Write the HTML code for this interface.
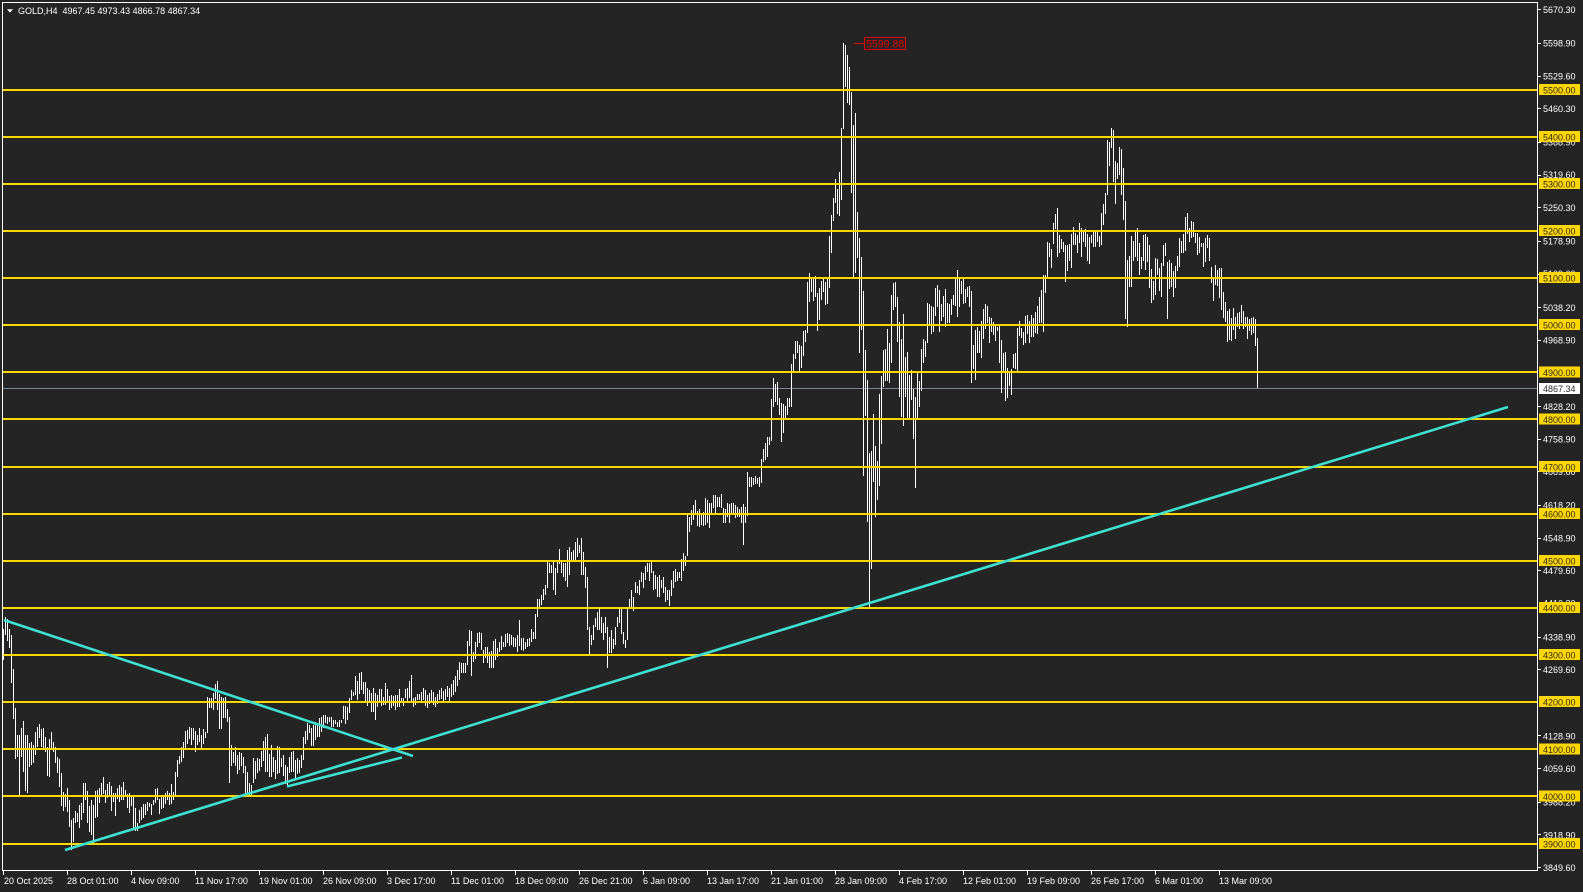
<!DOCTYPE html>
<html><head><meta charset="utf-8"><style>html,body{margin:0;padding:0;background:#242424;overflow:hidden}svg{display:block}</style></head>
<body>
<svg width="1583" height="892" viewBox="0 0 1583 892" xmlns="http://www.w3.org/2000/svg" font-family="'Liberation Sans', Arial, sans-serif">
<rect x="0" y="0" width="1583" height="892" fill="#242424"/>
<!-- current price line -->
<rect x="3" y="388" width="1534" height="1" fill="#778899"/>
<!-- bars -->
<path fill="none" stroke="#ffffff" stroke-width="1" shape-rendering="crispEdges" d="M3.5 629V660M5.5 617V635M7.5 619V641M9.5 629V648M11.5 635V683M13.5 669V719M15.5 708V759M17.5 735V757M19.5 735V796M21.5 728V757M23.5 721V772M25.5 735V791M27.5 735V793M29.5 743V767M31.5 742V765M33.5 745V763M35.5 732V755M37.5 727V747M39.5 724V738M41.5 729V747M43.5 728V748M45.5 737V752M47.5 747V776M49.5 739V777M51.5 732V748M53.5 742V752M55.5 747V763M57.5 757V773M59.5 759V787M61.5 773V806M63.5 792V811M65.5 794V807M67.5 788V812M69.5 800V827M71.5 820V850M73.5 818V842M75.5 811V823M77.5 813V822M79.5 805V828M81.5 803V820M83.5 783V813M85.5 783V800M87.5 791V823M89.5 806V832M91.5 800V835M93.5 805V843M95.5 791V818M97.5 790V817M99.5 788V803M101.5 783V797M103.5 777V794M105.5 790V803M107.5 784V798M109.5 782V795M111.5 786V811M113.5 793V802M115.5 793V816M117.5 788V799M119.5 785V802M121.5 787V800M123.5 782V800M125.5 790V797M127.5 794V808M129.5 793V813M131.5 797V806M133.5 797V830M135.5 808V831M137.5 823V831M139.5 810V823M141.5 807V820M143.5 804V818M145.5 804V815M147.5 802V811M149.5 803V807M151.5 804V815M153.5 800V805M155.5 789V803M157.5 788V800M159.5 799V814M161.5 797V809M163.5 796V808M165.5 793V804M167.5 791V800M169.5 793V805M171.5 784V804M173.5 792V800M175.5 772V797M177.5 760V777M179.5 756V764M181.5 747V762M183.5 742V758M185.5 731V750M187.5 730V744M189.5 727V739M191.5 728V745M193.5 728V740M195.5 731V752M197.5 735V745M199.5 728V742M201.5 735V749M203.5 729V744M205.5 732V738M207.5 697V733M209.5 698V708M211.5 698V708M213.5 693V710M215.5 684V699M217.5 681V710M219.5 694V729M221.5 697V729M223.5 698V718M225.5 697V718M227.5 709V722M229.5 717V783M231.5 745V766M233.5 752V763M235.5 747V766M237.5 755V774M239.5 752V770M241.5 753V766M243.5 757V773M245.5 766V795M247.5 772V793M249.5 783V797M251.5 785V797M253.5 758V783M255.5 761V779M257.5 758V773M259.5 759V771M261.5 751V767M263.5 741V761M265.5 737V772M267.5 734V772M269.5 754V777M271.5 745V777M273.5 757V772M275.5 760V779M277.5 746V774M279.5 747V773M281.5 758V767M283.5 755V776M285.5 765V784M287.5 767V785M289.5 757V773M291.5 752V772M293.5 751V772M295.5 760V779M297.5 758V774M299.5 760V773M301.5 755V768M303.5 737V760M305.5 731V744M307.5 723V740M309.5 725V733M311.5 728V746M313.5 725V746M315.5 722V740M317.5 723V737M319.5 718V737M321.5 717V732M323.5 715V728M325.5 715V723M327.5 717V724M329.5 717V722M331.5 717V727M333.5 720V727M335.5 720V724M337.5 722V727M339.5 720V727M341.5 720V723M343.5 706V719M345.5 706V724M347.5 707V720M349.5 698V713M351.5 690V700M353.5 692V696M355.5 676V695M357.5 681V700M359.5 673V694M361.5 672V690M363.5 682V694M365.5 682V703M367.5 688V706M369.5 690V702M371.5 693V712M373.5 688V712M375.5 693V720M377.5 695V707M379.5 689V703M381.5 689V706M383.5 697V705M385.5 683V705M387.5 689V703M389.5 696V710M391.5 695V708M393.5 696V706M395.5 695V710M397.5 695V707M399.5 689V707M401.5 698V702M403.5 698V706M405.5 689V698M407.5 688V703M409.5 681V698M411.5 675V702M413.5 698V707M415.5 697V705M417.5 694V700M419.5 694V700M421.5 692V703M423.5 688V700M425.5 690V706M427.5 695V708M429.5 693V704M431.5 690V701M433.5 692V705M435.5 697V707M437.5 694V704M439.5 690V700M441.5 688V699M443.5 691V703M445.5 689V700M447.5 686V697M449.5 688V701M451.5 684V697M453.5 680V695M455.5 676V692M457.5 670V686M459.5 662V680M461.5 663V673M463.5 663V673M465.5 663V673M467.5 641V665M469.5 630V646M471.5 631V676M473.5 652V662M475.5 642V659M477.5 633V647M479.5 632V643M481.5 633V650M483.5 650V663M485.5 647V658M487.5 647V663M489.5 652V668M491.5 651V668M493.5 641V668M495.5 639V660M497.5 648V657M499.5 642V652M501.5 636V650M503.5 642V647M505.5 634V647M507.5 633V643M509.5 634V646M511.5 635V645M513.5 637V647M515.5 638V647M517.5 635V652M519.5 620V646M521.5 638V650M523.5 638V651M525.5 642V649M527.5 639V647M529.5 638V646M531.5 629V642M533.5 632V639M535.5 614V639M537.5 599V617M539.5 599V607M541.5 595V605M543.5 589V600M545.5 585V595M547.5 562V588M549.5 563V573M551.5 565V573M553.5 562V590M555.5 568V595M557.5 562V573M559.5 549V564M561.5 562V573M563.5 563V577M565.5 563V581M567.5 550V587M569.5 547V575M571.5 552V562M573.5 550V560M575.5 542V562M577.5 538V557M579.5 545V553M581.5 538V575M583.5 552V575M585.5 567V588M587.5 577V630M589.5 627V654M591.5 635V645M593.5 625V640M595.5 618V627M597.5 612V630M599.5 607V630M601.5 617V633M603.5 623V640M605.5 617V633M607.5 627V668M609.5 637V653M611.5 630V653M613.5 639V649M615.5 627V645M617.5 617V627M619.5 608V623M621.5 608V634M623.5 632V644M625.5 640V648M627.5 608V640M629.5 599V608M631.5 590V607M633.5 597V611M635.5 582V593M637.5 586V593M639.5 580V595M641.5 572V582M643.5 573V588M645.5 566V580M647.5 563V572M649.5 563V581M651.5 562V573M653.5 571V590M655.5 575V589M657.5 577V597M659.5 575V597M661.5 580V588M663.5 577V593M665.5 587V602M667.5 590V600M669.5 590V606M671.5 580V596M673.5 571V588M675.5 569V582M677.5 572V581M679.5 572V578M681.5 559V581M683.5 553V571M685.5 556V566M687.5 515V556M689.5 517V532M691.5 510V525M693.5 505V520M695.5 500V514M697.5 511V526M699.5 509V527M701.5 515V525M703.5 512V526M705.5 498V525M707.5 500V523M709.5 503V528M711.5 503V513M713.5 495V508M715.5 495V513M717.5 497V507M719.5 497V507M721.5 494V508M723.5 508V523M725.5 509V523M727.5 503V517M729.5 504V523M731.5 503V515M733.5 503V513M735.5 505V518M737.5 507V517M739.5 509V517M741.5 507V523M743.5 504V545M745.5 507V523M747.5 472V516M749.5 477V487M751.5 477V487M753.5 478V485M755.5 476V484M757.5 478V484M759.5 477V487M761.5 459V483M763.5 449V462M765.5 443V460M767.5 437V457M769.5 437V445M771.5 399V441M773.5 378V407M775.5 384V402M777.5 382V405M779.5 398V415M781.5 403V442M783.5 404V433M785.5 406V418M787.5 398V415M789.5 398V407M791.5 364V407M793.5 354V371M795.5 341V359M797.5 341V353M799.5 345V372M801.5 346V368M803.5 331V356M805.5 330V342M807.5 282V333M809.5 273V302M811.5 278V292M813.5 279V301M815.5 276V297M817.5 293V331M819.5 288V320M821.5 281V300M823.5 278V292M825.5 282V305M827.5 278V304M829.5 236V288M831.5 215V253M833.5 198V221M835.5 179V203M837.5 189V214M839.5 172V216M841.5 128V200M843.5 43V129M845.5 45V87M847.5 55V103M849.5 67V105M851.5 92V193M853.5 125V279M855.5 113V273M857.5 212V258M859.5 238V353M861.5 257V330M863.5 291V476M865.5 350V416M867.5 380V522M869.5 453V607M871.5 451V569M873.5 414V482M875.5 446V517M877.5 461V500M879.5 394V486M881.5 376V444M883.5 350V387M885.5 349V381M887.5 329V381M889.5 343V383M891.5 295V363M893.5 283V310M895.5 282V307M897.5 297V342M899.5 322V397M901.5 339V417M903.5 314V426M905.5 357V397M907.5 352V418M909.5 375V418M911.5 370V400M913.5 389V439M915.5 397V488M917.5 371V418M919.5 381V407M921.5 349V391M923.5 339V363M925.5 341V357M927.5 303V343M929.5 304V324M931.5 306V334M933.5 307V332M935.5 288V316M937.5 285V307M939.5 290V332M941.5 304V321M943.5 296V317M945.5 289V327M947.5 303V323M949.5 304V323M951.5 299V315M953.5 295V305M955.5 278V306M957.5 270V317M959.5 278V307M961.5 281V294M963.5 279V304M965.5 289V303M967.5 287V297M969.5 286V307M971.5 291V383M973.5 345V369M975.5 330V380M977.5 327V353M979.5 331V353M981.5 321V358M983.5 309V339M985.5 304V329M987.5 306V323M989.5 317V343M991.5 318V332M993.5 322V335M995.5 326V341M997.5 327V331M999.5 326V363M1001.5 340V393M1003.5 353V373M1005.5 352V401M1007.5 368V398M1009.5 371V386M1011.5 369V395M1013.5 354V368M1015.5 353V369M1017.5 328V371M1019.5 321V336M1021.5 328V338M1023.5 332V345M1025.5 316V343M1027.5 315V334M1029.5 321V343M1031.5 315V337M1033.5 318V337M1035.5 312V333M1037.5 306V334M1039.5 297V323M1041.5 290V323M1043.5 275V332M1045.5 275V293M1047.5 242V277M1049.5 243V257M1051.5 249V268M1053.5 223V244M1055.5 214V229M1057.5 208V257M1059.5 235V253M1061.5 239V249M1063.5 242V252M1065.5 245V282M1067.5 245V271M1069.5 244V261M1071.5 234V268M1073.5 227V245M1075.5 233V245M1077.5 235V253M1079.5 223V243M1081.5 228V257M1083.5 230V242M1085.5 229V247M1087.5 234V261M1089.5 237V264M1091.5 235V243M1093.5 231V247M1095.5 232V247M1097.5 231V242M1099.5 236V247M1101.5 213V245M1103.5 204V225M1105.5 193V214M1107.5 140V195M1109.5 142V166M1111.5 128V148M1113.5 130V182M1115.5 161V204M1117.5 163V179M1119.5 147V175M1121.5 149V195M1123.5 168V220M1125.5 201V319M1127.5 260V327M1129.5 256V287M1131.5 236V287M1133.5 241V261M1135.5 231V257M1137.5 228V261M1139.5 243V275M1141.5 257V269M1143.5 235V261M1145.5 234V270M1147.5 237V262M1149.5 245V288M1151.5 269V303M1153.5 281V300M1155.5 258V295M1157.5 259V275M1159.5 268V291M1161.5 263V297M1163.5 245V266M1165.5 243V256M1167.5 262V319M1169.5 260V289M1171.5 263V287M1173.5 271V297M1175.5 266V288M1177.5 256V271M1179.5 238V267M1181.5 241V253M1183.5 234V253M1185.5 217V251M1187.5 213V234M1189.5 228V242M1191.5 221V238M1193.5 222V237M1195.5 233V243M1197.5 233V255M1199.5 237V253M1201.5 243V247M1203.5 243V267M1205.5 238V262M1207.5 235V248M1209.5 238V261M1211.5 267V283M1213.5 277V301M1215.5 265V285M1217.5 270V286M1219.5 268V298M1221.5 268V310M1223.5 292V318M1225.5 302V322M1227.5 311V342M1229.5 309V340M1231.5 318V341M1233.5 308V330M1235.5 317V339M1237.5 313V327M1239.5 312V329M1241.5 305V323M1243.5 311V329M1245.5 317V327M1247.5 317V339M1249.5 319V331M1251.5 318V335M1253.5 317V333M1255.5 319V346M1257.5 338V388"/>
<!-- horizontal levels -->
<g fill="#FFD700" shape-rendering="crispEdges">
<rect x="3" y="89" width="1534" height="2"/>
<rect x="3" y="136" width="1534" height="2"/>
<rect x="3" y="183" width="1534" height="2"/>
<rect x="3" y="230" width="1534" height="2"/>
<rect x="3" y="277" width="1534" height="2"/>
<rect x="3" y="324" width="1534" height="2"/>
<rect x="3" y="371" width="1534" height="2"/>
<rect x="3" y="418" width="1534" height="2"/>
<rect x="3" y="466" width="1534" height="2"/>
<rect x="3" y="513" width="1534" height="2"/>
<rect x="3" y="560" width="1534" height="2"/>
<rect x="3" y="607" width="1534" height="2"/>
<rect x="3" y="654" width="1534" height="2"/>
<rect x="3" y="701" width="1534" height="2"/>
<rect x="3" y="748" width="1534" height="2"/>
<rect x="3" y="795" width="1534" height="2"/>
<rect x="3" y="843" width="1534" height="2"/>
</g>
<!-- trend lines -->
<g stroke="#40E0D0" stroke-width="2.6" stroke-linecap="butt" fill="none">
<line x1="4" y1="620" x2="413" y2="756"/>
<line x1="65" y1="850" x2="1508" y2="407"/>
<line x1="287" y1="786.5" x2="402" y2="757.5"/>
</g>
<!-- peak marker -->
<line x1="854" y1="43.5" x2="865" y2="43.5" stroke="#e00000" stroke-width="1"/>
<rect x="864.5" y="37.5" width="41" height="12" fill="none" stroke="#e00000" stroke-width="1"/>
<text x="866" y="47.6" font-size="10.6" fill="#e00000">5599.88</text>
<!-- border -->
<g fill="#ffffff" shape-rendering="crispEdges">
<rect x="2" y="2" width="1536" height="1"/>
<rect x="2" y="2" width="1" height="869"/>
<rect x="1537" y="2" width="1" height="869"/>
<rect x="2" y="870" width="1536" height="1"/>
</g>
<!-- title -->
<polygon points="7,9.3 13,9.3 10,12.6" fill="#ffffff"/>
<text x="18" y="14" font-size="9" fill="#ffffff">GOLD,H4 &#160;4967.45 4973.43 4866.78 4867.34</text>
<!-- price axis ticks -->
<g stroke="#ffffff" stroke-width="1" shape-rendering="crispEdges">
<line x1="1538" y1="9.5" x2="1541" y2="9.5"/>
<line x1="1538" y1="43.5" x2="1541" y2="43.5"/>
<line x1="1538" y1="76.5" x2="1541" y2="76.5"/>
<line x1="1538" y1="108.5" x2="1541" y2="108.5"/>
<line x1="1538" y1="142.5" x2="1541" y2="142.5"/>
<line x1="1538" y1="175.5" x2="1541" y2="175.5"/>
<line x1="1538" y1="207.5" x2="1541" y2="207.5"/>
<line x1="1538" y1="241.5" x2="1541" y2="241.5"/>
<line x1="1538" y1="274.5" x2="1541" y2="274.5"/>
<line x1="1538" y1="307.5" x2="1541" y2="307.5"/>
<line x1="1538" y1="340.5" x2="1541" y2="340.5"/>
<line x1="1538" y1="406.5" x2="1541" y2="406.5"/>
<line x1="1538" y1="439.5" x2="1541" y2="439.5"/>
<line x1="1538" y1="471.5" x2="1541" y2="471.5"/>
<line x1="1538" y1="505.5" x2="1541" y2="505.5"/>
<line x1="1538" y1="538.5" x2="1541" y2="538.5"/>
<line x1="1538" y1="570.5" x2="1541" y2="570.5"/>
<line x1="1538" y1="637.5" x2="1541" y2="637.5"/>
<line x1="1538" y1="669.5" x2="1541" y2="669.5"/>
<line x1="1538" y1="735.5" x2="1541" y2="735.5"/>
<line x1="1538" y1="768.5" x2="1541" y2="768.5"/>
<line x1="1538" y1="802.5" x2="1541" y2="802.5"/>
<line x1="1538" y1="834.5" x2="1541" y2="834.5"/>
<line x1="1538" y1="867.5" x2="1541" y2="867.5"/>
</g>
<g font-size="9" fill="#ffffff">
<text x="1543" y="13">5670.30</text>
<text x="1543" y="46.6">5598.90</text>
<text x="1543" y="79.3">5529.60</text>
<text x="1543" y="111.9">5460.30</text>
<text x="1543" y="145.6">5388.90</text>
<text x="1543" y="178.2">5319.60</text>
<text x="1543" y="210.9">5250.30</text>
<text x="1543" y="244.5">5178.90</text>
<text x="1543" y="277.2">5109.60</text>
<text x="1543" y="310.8">5038.20</text>
<text x="1543" y="343.5">4968.90</text>
<text x="1543" y="376.1">4899.60</text>
<text x="1543" y="409.8">4828.20</text>
<text x="1543" y="442.4">4758.90</text>
<text x="1543" y="475.1">4689.60</text>
<text x="1543" y="508.7">4618.20</text>
<text x="1543" y="541.4">4548.90</text>
<text x="1543" y="574.1">4479.60</text>
<text x="1543" y="606.7">4410.30</text>
<text x="1543" y="640.4">4338.90</text>
<text x="1543" y="673">4269.60</text>
<text x="1543" y="705.7">4200.30</text>
<text x="1543" y="739.3">4128.90</text>
<text x="1543" y="772">4059.60</text>
<text x="1543" y="805.6">3988.20</text>
<text x="1543" y="838.3">3918.90</text>
<text x="1543" y="871">3849.60</text>
</g>
<!-- level labels -->
<g fill="#FFD700" shape-rendering="crispEdges">
<rect x="1539" y="84" width="41" height="11"/>
<rect x="1539" y="131" width="41" height="11"/>
<rect x="1539" y="178" width="41" height="11"/>
<rect x="1539" y="225" width="41" height="11"/>
<rect x="1539" y="272" width="41" height="11"/>
<rect x="1539" y="319" width="41" height="11"/>
<rect x="1539" y="366.5" width="41" height="11"/>
<rect x="1539" y="413.5" width="41" height="11"/>
<rect x="1539" y="461" width="41" height="11"/>
<rect x="1539" y="508" width="41" height="11"/>
<rect x="1539" y="555" width="41" height="11"/>
<rect x="1539" y="602" width="41" height="11"/>
<rect x="1539" y="649" width="41" height="11"/>
<rect x="1539" y="696" width="41" height="11"/>
<rect x="1539" y="743.5" width="41" height="11"/>
<rect x="1539" y="790.5" width="41" height="11"/>
<rect x="1539" y="838" width="41" height="11"/>
</g>
<rect x="1539" y="383" width="41" height="11" fill="#ffffff"/>
<g font-size="9" fill="#2a2a2a">
<text x="1543" y="93.3">5500.00</text>
<text x="1543" y="140.3">5400.00</text>
<text x="1543" y="187.3">5300.00</text>
<text x="1543" y="234.3">5200.00</text>
<text x="1543" y="281.3">5100.00</text>
<text x="1543" y="328.3">5000.00</text>
<text x="1543" y="375.8">4900.00</text>
<text x="1543" y="422.8">4800.00</text>
<text x="1543" y="470.3">4700.00</text>
<text x="1543" y="517.3">4600.00</text>
<text x="1543" y="564.3">4500.00</text>
<text x="1543" y="611.3">4400.00</text>
<text x="1543" y="658.3">4300.00</text>
<text x="1543" y="705.3">4200.00</text>
<text x="1543" y="752.8">4100.00</text>
<text x="1543" y="799.8">4000.00</text>
<text x="1543" y="847.3">3900.00</text>
<text x="1543" y="392">4867.34</text>
</g>
<!-- time axis -->
<g stroke="#ffffff" stroke-width="1" shape-rendering="crispEdges">
<line x1="3.5" y1="871" x2="3.5" y2="875"/>
<line x1="67.5" y1="871" x2="67.5" y2="875"/>
<line x1="131.5" y1="871" x2="131.5" y2="875"/>
<line x1="195.5" y1="871" x2="195.5" y2="875"/>
<line x1="259.5" y1="871" x2="259.5" y2="875"/>
<line x1="323.5" y1="871" x2="323.5" y2="875"/>
<line x1="387.5" y1="871" x2="387.5" y2="875"/>
<line x1="451.5" y1="871" x2="451.5" y2="875"/>
<line x1="515.5" y1="871" x2="515.5" y2="875"/>
<line x1="579.5" y1="871" x2="579.5" y2="875"/>
<line x1="643.5" y1="871" x2="643.5" y2="875"/>
<line x1="707.5" y1="871" x2="707.5" y2="875"/>
<line x1="771.5" y1="871" x2="771.5" y2="875"/>
<line x1="835.5" y1="871" x2="835.5" y2="875"/>
<line x1="899.5" y1="871" x2="899.5" y2="875"/>
<line x1="963.5" y1="871" x2="963.5" y2="875"/>
<line x1="1027.5" y1="871" x2="1027.5" y2="875"/>
<line x1="1091.5" y1="871" x2="1091.5" y2="875"/>
<line x1="1155.5" y1="871" x2="1155.5" y2="875"/>
<line x1="1219.5" y1="871" x2="1219.5" y2="875"/>
</g>
<g font-size="9" fill="#ffffff">
<text x="4" y="884">20 Oct 2025</text>
<text x="67" y="884">28 Oct 01:00</text>
<text x="131" y="884">4 Nov 09:00</text>
<text x="195" y="884">11 Nov 17:00</text>
<text x="259" y="884">19 Nov 01:00</text>
<text x="323" y="884">26 Nov 09:00</text>
<text x="387" y="884">3 Dec 17:00</text>
<text x="451" y="884">11 Dec 01:00</text>
<text x="515" y="884">18 Dec 09:00</text>
<text x="579" y="884">26 Dec 21:00</text>
<text x="643" y="884">6 Jan 09:00</text>
<text x="707" y="884">13 Jan 17:00</text>
<text x="771" y="884">21 Jan 01:00</text>
<text x="835" y="884">28 Jan 09:00</text>
<text x="899" y="884">4 Feb 17:00</text>
<text x="963" y="884">12 Feb 01:00</text>
<text x="1027" y="884">19 Feb 09:00</text>
<text x="1091" y="884">26 Feb 17:00</text>
<text x="1155" y="884">6 Mar 01:00</text>
<text x="1219" y="884">13 Mar 09:00</text>
</g>
</svg>
</body></html>
